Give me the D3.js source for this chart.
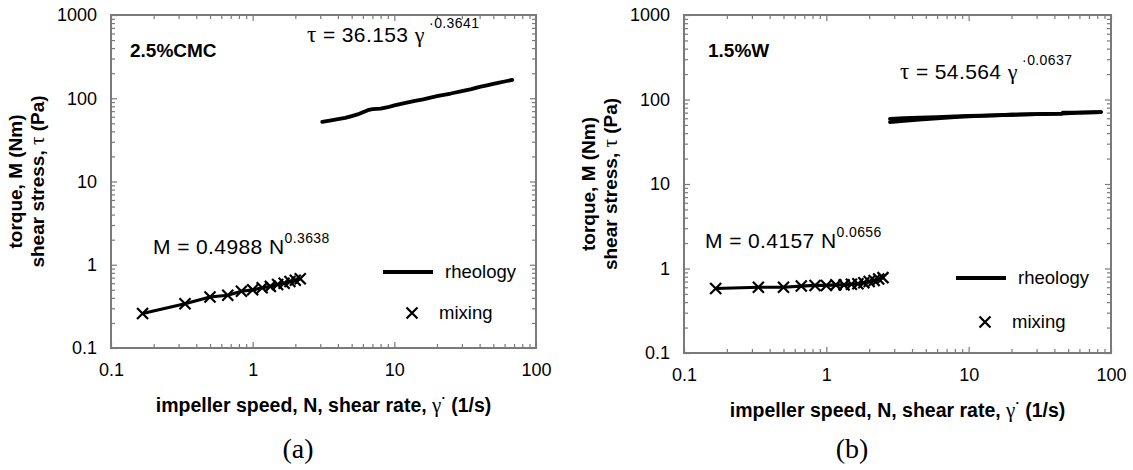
<!DOCTYPE html>
<html>
<head>
<meta charset="utf-8">
<script src="https://cdn.jsdelivr.net/npm/d3@7"></script>
<style>
  html, body { margin: 0; padding: 0; background: #fff; }
  svg { display: block; }
  text { font-family: "Liberation Sans", Arial, sans-serif; fill: #000; }
  .serif { font-family: "Liberation Serif", "Times New Roman", serif; }
</style>
</head>
<body>
<svg id="chart" width="1133" height="470"></svg>
<script>
// ---------- data ----------
const xTickValues = [0.1, 1, 10, 100];
const yTickValues = [0.1, 1, 10, 100, 1000];
const xTickLabels = ["0.1", "1", "10", "100"];
const yTickLabels = ["0.1", "1", "10", "100", "1000"];

// panel (a) 2.5% CMC
const rheoA_rate   = [3.1, 3.5, 4, 4.5, 5, 5.5, 6, 6.5, 7, 8, 9, 10, 12, 14, 16, 18, 20, 25, 30, 35, 40, 45, 50, 55, 60, 68];
const rheoA_stress = [52, 54, 56, 58, 61, 64, 68, 72, 74, 75, 78, 82, 88, 93, 97, 102, 106, 114, 122, 129, 137, 143, 149, 154, 159, 166];
const mixA_speed  = [0.167, 0.333, 0.5, 0.667, 0.833, 1.0, 1.167, 1.333, 1.5, 1.667, 1.833, 2.0, 2.167];
const mixA_torque = [0.26, 0.34, 0.41, 0.43, 0.48, 0.50, 0.53, 0.55, 0.58, 0.60, 0.63, 0.65, 0.68];

// panel (b) 1.5% W
const rheoB_rateUp     = [2.8, 3.5, 4.5, 6, 8, 10, 15, 20, 30, 45, 46, 60, 85];
const rheoB_stressUp   = [59, 60, 61, 62, 63, 64, 65, 66, 67, 68, 70, 70, 71];
const rheoB_rateDown   = [85, 60, 45, 30, 20, 15, 10, 8, 6, 4.5, 3.5, 2.8];
const rheoB_stressDown = [71, 70, 68, 67, 66, 65, 63, 62, 60, 58, 56, 54];
const mixB_speed  = [0.167, 0.333, 0.5, 0.667, 0.833, 1.0, 1.167, 1.333, 1.5, 1.667, 1.833, 2.0, 2.167, 2.333, 2.5];
const mixB_torque = [0.58, 0.60, 0.60, 0.62, 0.63, 0.63, 0.64, 0.64, 0.65, 0.66, 0.68, 0.70, 0.72, 0.75, 0.78];

const panelNames = ["2.5%CMC", "1.5%W"];
const rheoFits = [["τ", " = 36.153 ", "γ", " ·0.3641"], ["τ", " = 54.564 ", "γ", " ·0.0637"]];
const mixFits  = [["M = 0.4988 N", "0.3638"], ["M = 0.4157 N", "0.0656"]];
const legendLabels = ["rheology", "mixing"];
const panelLetters = ["(a)", "(b)"];

// ---------- layout ----------
const svg = d3.select("#chart");
const layouts = [
  {left: 111, right: 536, top: 15, bottom: 348, nameX: 130, nameY: 57, fitX: 307, fitY: 42, mX: 153, mY: 254, legX: 383, legY1: 272, legY2: 313, letterX: 298},
  {left: 684, right: 1111, top: 15, bottom: 353, nameX: 708, nameY: 57, fitX: 900, fitY: 79, mX: 705, mY: 248, legX: 956, legY1: 278, legY2: 322, letterX: 852}
];
const panels = [
  {rheo: [[rheoA_rate, rheoA_stress]], mix: [mixA_speed, mixA_torque]},
  {rheo: [[rheoB_rateUp, rheoB_stressUp], [rheoB_rateDown, rheoB_stressDown]], mix: [mixB_speed, mixB_torque]}
];

const frameColor = "#7a7a7a";

function xMarker(g, cx, cy, s) {
  g.append("path")
    .attr("d", `M${cx - s},${cy - s}L${cx + s},${cy + s}M${cx - s},${cy + s}L${cx + s},${cy - s}`)
    .attr("stroke", "#000").attr("stroke-width", 2.2).attr("fill", "none");
}

layouts.forEach((L, i) => {
  const P = panels[i];
  const x = d3.scaleLog().domain([0.1, 100]).range([L.left, L.right]);
  const y = d3.scaleLog().domain([0.1, 1000]).range([L.bottom, L.top]);
  const g = svg.append("g");

  const xMinor = [], yMinor = [];
  [0.1, 1, 10].forEach(d => { for (let k = 2; k <= 9; k++) xMinor.push(d * k); });
  [0.1, 1, 10, 100].forEach(d => { for (let k = 2; k <= 9; k++) yMinor.push(d * k); });

  const axB = d3.axisBottom(x).tickValues(xTickValues).tickFormat((d, j) => xTickLabels[j]).tickSize(-6).tickPadding(15);
  const axT = d3.axisTop(x).tickValues(xTickValues).tickFormat("").tickSize(-6);
  const axL = d3.axisLeft(y).tickValues(yTickValues).tickFormat((d, j) => yTickLabels[j]).tickSize(-6).tickPadding(14);
  const axR = d3.axisRight(y).tickValues(yTickValues).tickFormat("").tickSize(-6);
  const mB = d3.axisBottom(x).tickValues(xMinor).tickFormat("").tickSize(-4);
  const mT = d3.axisTop(x).tickValues(xMinor).tickFormat("").tickSize(-4);
  const mL = d3.axisLeft(y).tickValues(yMinor).tickFormat("").tickSize(-4);
  const mR = d3.axisRight(y).tickValues(yMinor).tickFormat("").tickSize(-4);

  const addAxis = (ax, tx, ty) => {
    const a = g.append("g").attr("transform", `translate(${tx},${ty})`).call(ax);
    a.select(".domain").remove();
    a.selectAll(".tick line").attr("stroke", frameColor).attr("stroke-width", 1.2);
    a.selectAll(".tick text").attr("font-size", 18).attr("font-family", "Liberation Sans, Arial, sans-serif").attr("fill", "#000");
    return a;
  };
  addAxis(mB, 0, L.bottom); addAxis(mT, 0, L.top); addAxis(mL, L.left, 0); addAxis(mR, L.right, 0);
  addAxis(axB, 0, L.bottom); addAxis(axT, 0, L.top); addAxis(axL, L.left, 0); addAxis(axR, L.right, 0);

  g.append("rect").attr("x", L.left).attr("y", L.top)
    .attr("width", L.right - L.left).attr("height", L.bottom - L.top)
    .attr("fill", "none").attr("stroke", frameColor).attr("stroke-width", 2);

  const line = d3.line().x(d => x(d[0])).y(d => y(d[1]));
  P.rheo.forEach(([xs, ys]) => {
    g.append("path").datum(xs.map((v, j) => [v, ys[j]]))
      .attr("d", line).attr("fill", "none").attr("stroke", "#000")
      .attr("stroke-width", 3.8).attr("stroke-linejoin", "round").attr("stroke-linecap", "round");
  });

  const mixPts = P.mix[0].map((v, j) => [v, P.mix[1][j]]);
  g.append("path").datum(mixPts).attr("d", line).attr("fill", "none")
    .attr("stroke", "#000").attr("stroke-width", 3.2).attr("stroke-linejoin", "round");
  mixPts.forEach(p => xMarker(g, x(p[0]), y(p[1]), 5.5));

  g.append("text").attr("x", L.nameX).attr("y", L.nameY).attr("font-size", 19).attr("font-weight", "bold").text(panelNames[i]);

  const f = rheoFits[i];
  const t1 = g.append("text").attr("x", L.fitX).attr("y", L.fitY).attr("font-size", 21).attr("letter-spacing", 0.4);
  t1.append("tspan").attr("class", "serif").attr("font-size", 23).text(f[0]);
  t1.append("tspan").text(f[1]);
  t1.append("tspan").attr("class", "serif").attr("font-size", 22).text(f[2]);
  t1.append("tspan").attr("font-size", 14).attr("dy", -14).text(f[3]);

  const m = mixFits[i];
  const t2 = g.append("text").attr("x", L.mX).attr("y", L.mY).attr("font-size", 21).attr("letter-spacing", 0.4);
  t2.append("tspan").text(m[0]);
  t2.append("tspan").attr("font-size", 14).attr("dy", -11).text(m[1]);

  g.append("line").attr("x1", L.legX).attr("x2", L.legX + 50).attr("y1", L.legY1).attr("y2", L.legY1)
    .attr("stroke", "#000").attr("stroke-width", 3.8);
  g.append("text").attr("x", L.legX + 62).attr("y", L.legY1 + 6).attr("font-size", 18.5).text(legendLabels[0]);
  xMarker(g, L.legX + 29, L.legY2, 5.5);
  g.append("text").attr("x", L.legX + 56).attr("y", L.legY2 + 6).attr("font-size", 18.5).text(legendLabels[1]);

  const cx = (L.left + L.right) / 2;
  const xt = g.append("text").attr("x", cx).attr("y", L.bottom + 64).attr("text-anchor", "middle")
    .attr("font-size", 19.5).attr("font-weight", "bold");
  xt.append("tspan").text("impeller speed, N, shear rate, ");
  xt.append("tspan").attr("class", "serif").attr("font-weight", "normal").attr("font-size", 21).text("γ");
  xt.append("tspan").attr("font-size", 13).attr("dy", -10).text("·");
  xt.append("tspan").attr("dy", 10).text(" (1/s)");

  const cy = (L.top + L.bottom) / 2;
  g.append("text").attr("transform", `translate(${L.left - 89},${cy}) rotate(-90)`)
    .attr("text-anchor", "middle").attr("font-size", 19).attr("font-weight", "bold").text("torque, M (Nm)");
  const yt2 = g.append("text").attr("transform", `translate(${L.left - 67},${cy}) rotate(-90)`)
    .attr("text-anchor", "middle").attr("font-size", 19).attr("font-weight", "bold");
  yt2.append("tspan").text("shear stress, ");
  yt2.append("tspan").attr("class", "serif").attr("font-weight", "normal").attr("font-size", 21).text("τ");
  yt2.append("tspan").text(" (Pa)");

  svg.append("text").attr("class", "serif").attr("x", L.letterX).attr("y", 458)
    .attr("text-anchor", "middle").attr("font-size", 28).text(panelLetters[i]);
});
</script>
</body>
</html>
